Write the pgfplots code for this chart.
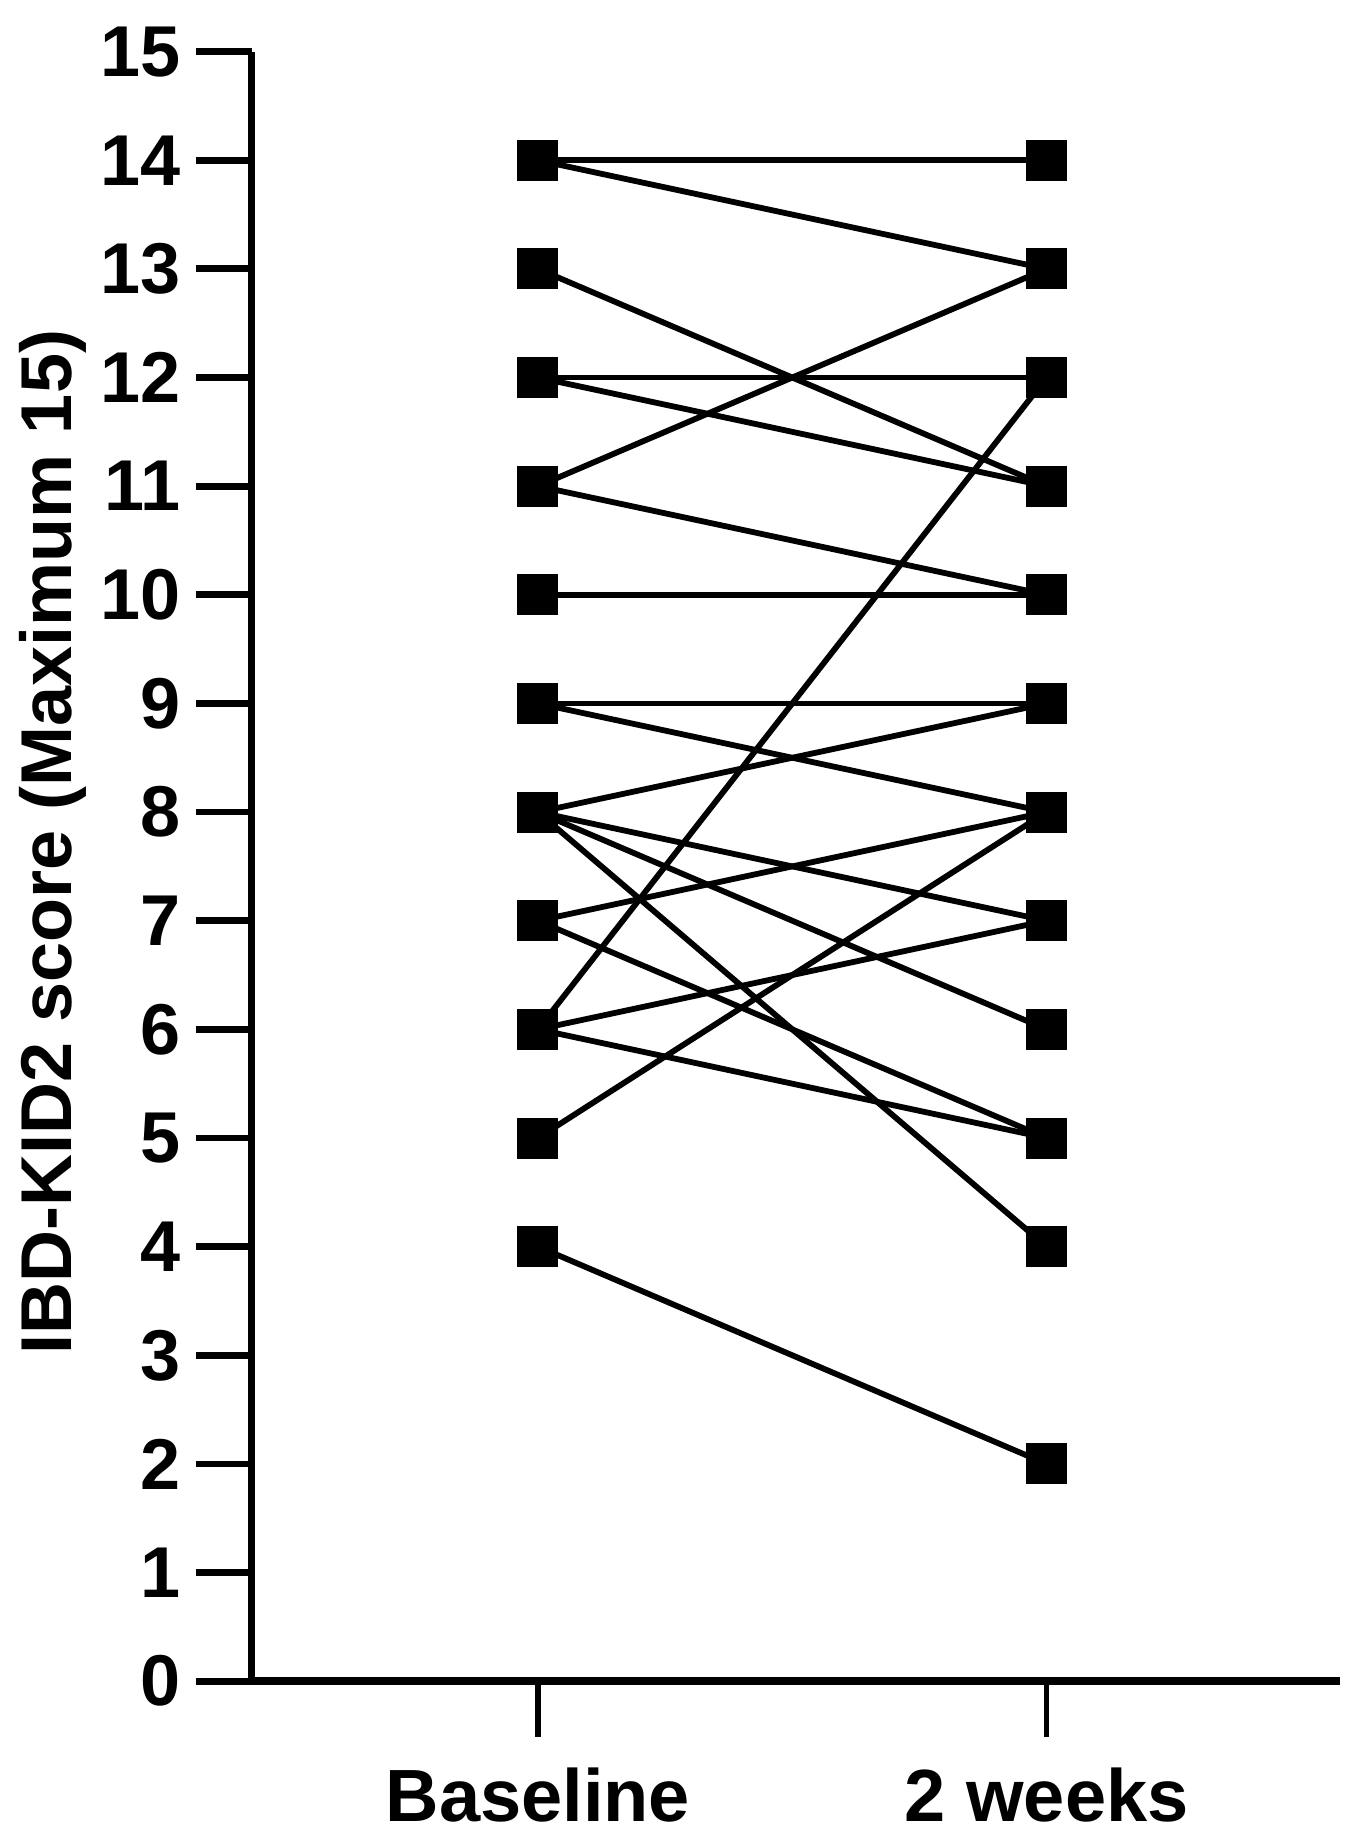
\documentclass[border=0pt]{standalone}
\usepackage{fontspec}
\setmainfont{Liberation Sans}
\usepackage{pgfplots}
\pgfplotsset{compat=1.18}
\pgfplotsset{pp/.style={black, solid, line width=1.45pt, mark=square*,
    mark size=4.4pt, mark options={solid, fill=black}}}
\begin{document}
\begin{tikzpicture}
\begin{axis}[
    at={(0,0)}, anchor=south west,
    scale only axis,
    width=272pt, height=407.4pt,
    xmin=-0.563, xmax=1.576,
    ymin=0, ymax=15,
    clip=false,
    axis x line=bottom, axis y line=left,
    axis line style={-, line width=1.9pt, black},
    xtick={0,1}, xticklabels={Baseline, 2 weeks},
    ytick={0,1,...,15},
    tick align=outside,
    major tick length=14pt,
    ytick style={line width=1.7pt, black},
    xtick style={line width=1.4pt, black},
    /pgf/number format/assume math mode=true,
    tick label style={font=\bfseries\fontsize{18}{18}\selectfont},
    yticklabel style={anchor=east, inner sep=0pt, xshift=-3.6pt},
    xticklabel style={anchor=north, inner sep=0pt, yshift=-7.5pt,
        font=\bfseries\fontsize{18.5}{18.5}\selectfont},
    ylabel={IBD-KID2 score (Maximum 15)},
    ylabel style={font=\bfseries\fontsize{18}{18}\selectfont,
        at={(axis description cs:0,0.515)}, anchor=center, yshift=49.7pt},
]
% baseline -> 2 weeks, one line per patient
\addplot[pp] coordinates {(0,14) (1,14)};
\addplot[pp] coordinates {(0,14) (1,13)};
\addplot[pp] coordinates {(0,13) (1,11)};
\addplot[pp] coordinates {(0,12) (1,12)};
\addplot[pp] coordinates {(0,12) (1,11)};
\addplot[pp] coordinates {(0,11) (1,13)};
\addplot[pp] coordinates {(0,11) (1,10)};
\addplot[pp] coordinates {(0,10) (1,10)};
\addplot[pp] coordinates {(0,9) (1,9)};
\addplot[pp] coordinates {(0,9) (1,8)};
\addplot[pp] coordinates {(0,8) (1,9)};
\addplot[pp] coordinates {(0,8) (1,7)};
\addplot[pp] coordinates {(0,8) (1,6)};
\addplot[pp] coordinates {(0,8) (1,4)};
\addplot[pp] coordinates {(0,7) (1,8)};
\addplot[pp] coordinates {(0,7) (1,5)};
\addplot[pp] coordinates {(0,6) (1,12)};
\addplot[pp] coordinates {(0,6) (1,7)};
\addplot[pp] coordinates {(0,6) (1,5)};
\addplot[pp] coordinates {(0,5) (1,8)};
\addplot[pp] coordinates {(0,4) (1,2)};
\end{axis}
\path[use as bounding box] (-62.9pt,-38.2pt) rectangle (276.35pt,420.3pt);
\end{tikzpicture}
\end{document}
